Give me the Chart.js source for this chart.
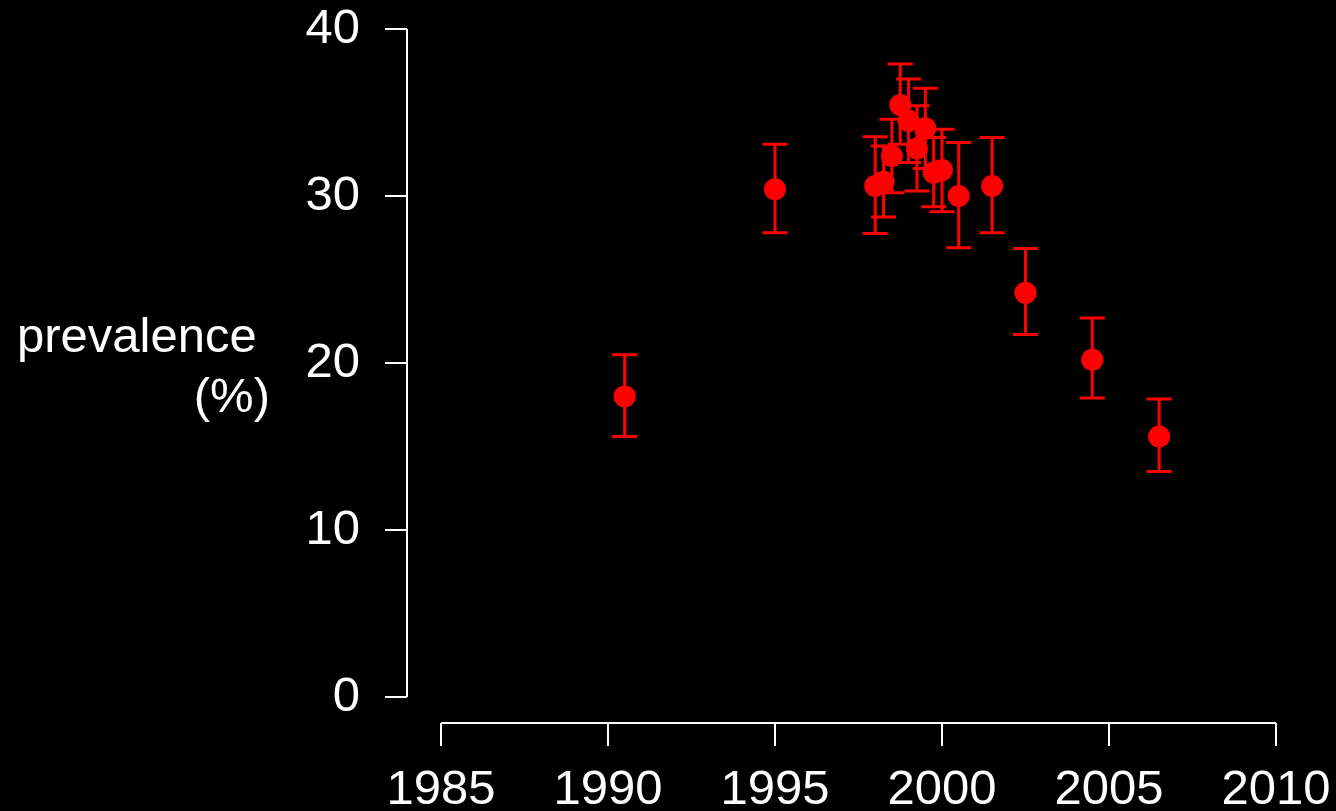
<!DOCTYPE html>
<html>
<head>
<meta charset="utf-8">
<script src="https://cdn.jsdelivr.net/npm/chart.js@4"></script>
<style>
  html, body { margin: 0; padding: 0; background: #000; overflow: hidden; }
  #wrap { width: 1336px; height: 811px; position: relative; }
</style>
</head>
<body>
<div id="wrap"><canvas id="myChart"></canvas></div>
<script>
// survey year (mid-point) and prevalence with 95% interval
var years = [1990.5, 1995.0, 1998.0, 1998.25, 1998.5, 1998.75, 1999.0, 1999.25, 1999.5, 1999.75, 2000.0, 2000.5, 2001.5, 2002.5, 2004.5, 2006.5];
var prevalence = [18.0, 30.4, 30.6, 30.85, 32.4, 35.45, 34.5, 32.85, 34.05, 31.4, 31.55, 30.0, 30.6, 24.2, 20.2, 15.6];
var lower = [15.6, 27.8, 27.75, 28.75, 30.2, 33.1, 32.0, 30.3, 31.65, 29.35, 29.05, 26.9, 27.8, 21.7, 17.9, 13.5];
var upper = [20.5, 33.1, 33.55, 33.0, 34.6, 37.9, 37.0, 35.4, 36.45, 33.5, 34.0, 33.2, 33.5, 26.85, 22.7, 17.85];

var xTicks = [1985, 1990, 1995, 2000, 2005, 2010];
var yTicks = [0, 10, 20, 30, 40];
var yTitle = ['prevalence', '(%)'];

var points = years.map(function (yr, i) {
    return { x: yr, y: prevalence[i] };
});

var red = '#ff0000';
var white = '#ffffff';
var font = 'Liberation Sans, Arial, sans-serif';

// black background
var bgPlugin = {
    id: 'bg',
    beforeDraw: function (chart) {
        var c = chart.ctx;
        c.save();
        c.fillStyle = '#000';
        c.fillRect(0, 0, chart.width, chart.height);
        c.restore();
    }
};

// error bars, drawn under the points
var errorBars = {
    id: 'errorBars',
    beforeDatasetsDraw: function (chart) {
        var c = chart.ctx;
        var xs = chart.scales.x, ys = chart.scales.y;
        c.save();
        c.strokeStyle = red;
        c.lineWidth = 3;
        c.lineCap = 'butt';
        for (var i = 0; i < years.length; i++) {
            var px = xs.getPixelForValue(years[i]);
            var lo = ys.getPixelForValue(lower[i]);
            var hi = ys.getPixelForValue(upper[i]);
            c.beginPath();
            c.moveTo(px, lo); c.lineTo(px, hi);
            c.moveTo(px - 12.5, lo); c.lineTo(px + 12.5, lo);
            c.moveTo(px - 12.5, hi); c.lineTo(px + 12.5, hi);
            c.stroke();
        }
        c.restore();
    }
};

// R-style detached axes and the horizontal axis title
var axesPlugin = {
    id: 'rAxes',
    afterDraw: function (chart) {
        var c = chart.ctx;
        var xs = chart.scales.x, ys = chart.scales.y;
        var area = chart.chartArea;
        var axX = area.left - 34;
        var axY = area.bottom + 26;
        c.save();
        c.strokeStyle = white;
        c.lineWidth = 2;
        c.beginPath();
        // y axis
        c.moveTo(axX, ys.getPixelForValue(yTicks[0]));
        c.lineTo(axX, ys.getPixelForValue(yTicks[yTicks.length - 1]));
        yTicks.forEach(function (v) {
            var py = ys.getPixelForValue(v);
            c.moveTo(axX - 22, py); c.lineTo(axX, py);
        });
        // x axis
        c.moveTo(xs.getPixelForValue(xTicks[0]), axY);
        c.lineTo(xs.getPixelForValue(xTicks[xTicks.length - 1]), axY);
        xTicks.forEach(function (v) {
            var px = xs.getPixelForValue(v);
            c.moveTo(px, axY); c.lineTo(px, axY + 23);
        });
        c.stroke();

        c.fillStyle = white;
        c.font = '49px ' + font;
        c.textBaseline = 'alphabetic';
        c.textAlign = 'left';
        c.fillText(yTitle[0], 17, 352);
        c.textAlign = 'right';
        c.fillText(yTitle[1], 270, 412);
        c.restore();
    }
};

function noScalePadding(s) {
    s.paddingTop = 0;
    s.paddingBottom = 0;
    s.paddingLeft = 0;
    s.paddingRight = 0;
}

var ctx = document.getElementById('myChart').getContext('2d');
var myChart = new Chart(ctx, {
    type: 'scatter',
    data: {
        datasets: [{
            label: 'prevalence',
            data: points,
            backgroundColor: red,
            borderColor: red,
            borderWidth: 0,
            pointRadius: 11,
            pointHoverRadius: 11,
            clip: false
        }]
    },
    options: {
        responsive: true,
        maintainAspectRatio: false,
        animation: false,
        events: [],
        layout: { padding: { left: 0, top: 29, right: 60, bottom: 0 } },
        plugins: {
            legend: { display: false },
            tooltip: { enabled: false }
        },
        scales: {
            x: {
                type: 'linear',
                min: 1985,
                max: 2010,
                afterFit: function (s) { s.height = 114; noScalePadding(s); },
                afterBuildTicks: function (s) {
                    s.ticks = xTicks.map(function (v) { return { value: v }; });
                },
                grid: { display: false, drawTicks: false },
                border: { display: false },
                ticks: {
                    color: white,
                    font: { family: font, size: 49 },
                    padding: 64,
                    maxRotation: 0,
                    autoSkip: false,
                    callback: function (v) { return String(v); }
                }
            },
            y: {
                type: 'linear',
                min: 0,
                max: 40,
                afterFit: function (s) { s.width = 441; noScalePadding(s); },
                afterBuildTicks: function (s) {
                    s.ticks = yTicks.map(function (v) { return { value: v }; });
                },
                grid: { display: false, drawTicks: false },
                border: { display: false },
                ticks: {
                    color: white,
                    font: { family: font, size: 49 },
                    padding: 81,
                    autoSkip: false,
                    callback: function (v) { return String(v); }
                }
            }
        }
    },
    plugins: [bgPlugin, errorBars, axesPlugin]
});
</script>
</body>
</html>
